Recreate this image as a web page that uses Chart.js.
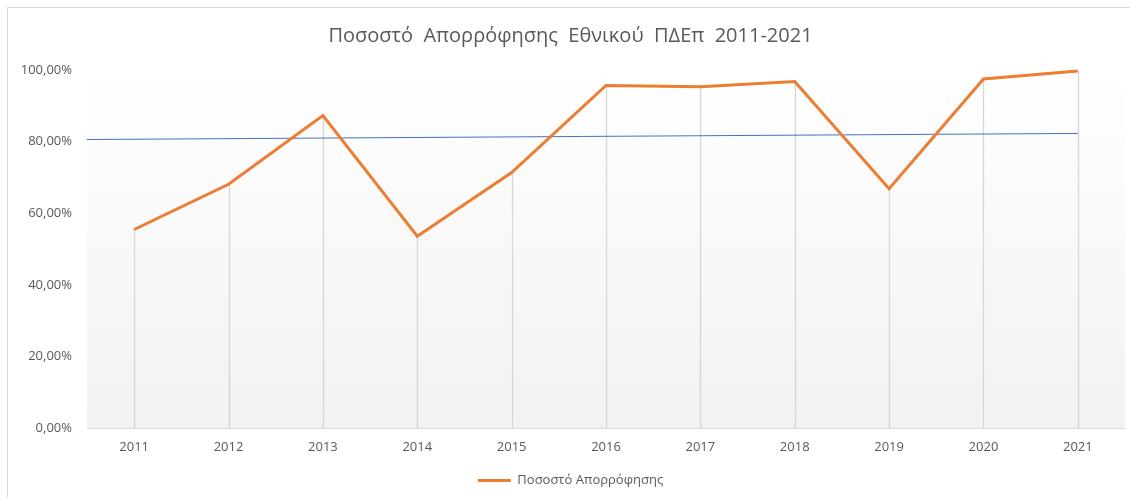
<!DOCTYPE html>
<html>
<head>
<meta charset="utf-8">
<script src="https://cdn.jsdelivr.net/npm/chart.js@4"></script>
<style>
  html, body { margin: 0; padding: 0; background: #fff; }
  #moldura {
    position: absolute; left: 7px; top: 7px; width: 1123px; height: 490px;
    border-left: 1px solid #d9d9d9; border-top: 1px solid #d9d9d9;
  }
  #caixa { position: absolute; left: 0; top: 0; width: 1130px; height: 497px; }
</style>
</head>
<body>
<div id="moldura"></div>
<div id="caixa"><canvas id="grafico"></canvas></div>
<script>
// Dados
const anos = [2011, 2012, 2013, 2014, 2015, 2016, 2017, 2018, 2019, 2020, 2021];
const percentuais = [55.5, 68.1, 87.3, 53.6, 71.4, 95.7, 95.3, 96.8, 66.9, 97.5, 99.7];
// Linha de tendência (azul): início na borda esquerda, fim em 2021
const tendenciaX = [2010.5, 2021];
const tendenciaY = [80.6, 82.3];

const COR_TEXTO = "#595959";
const FONTE = "'Open Sans', 'Noto Sans', sans-serif";

// Fundo em degradê da área de plotagem
const fundoDegrade = {
  id: "fundoDegrade",
  beforeDraw(chart) {
    const { ctx, chartArea: a } = chart;
    const g = ctx.createLinearGradient(0, a.top, 0, a.bottom);
    g.addColorStop(0, "#ffffff");
    g.addColorStop(1, "#f2f2f2");
    ctx.save();
    ctx.fillStyle = g;
    ctx.fillRect(a.left, a.top, a.right - a.left, a.bottom - a.top);
    ctx.restore();
  },
};

// Linhas verticais de cada ponto até o eixo
const linhasQueda = {
  id: "linhasQueda",
  beforeDatasetsDraw(chart) {
    const { ctx, chartArea: a } = chart;
    const meta = chart.getDatasetMeta(0);
    ctx.save();
    ctx.strokeStyle = "#d6d6d6";
    ctx.lineWidth = 1.3;
    meta.data.forEach((p) => {
      const x = Math.round(p.x) + 0.5;
      ctx.beginPath();
      ctx.moveTo(x, p.y);
      ctx.lineTo(x, a.bottom);
      ctx.stroke();
    });
    ctx.restore();
  },
};

new Chart(document.getElementById("grafico"), {
  type: "line",
  data: {
    datasets: [
      {
        label: "Ποσοστό Απορρόφησης",
        data: anos.map((a, i) => ({ x: a, y: percentuais[i] })),
        borderColor: "#ed7d31",
        backgroundColor: "#ed7d31",
        borderWidth: 3,
        pointRadius: 0,
        tension: 0,
        clip: false,
      },
      {
        label: "Tendência",
        data: tendenciaX.map((x, i) => ({ x, y: tendenciaY[i] })),
        borderColor: "#4472c4",
        borderWidth: 1,
        pointRadius: 0,
      },
    ],
  },
  options: {
    responsive: true,
    maintainAspectRatio: false,
    animation: false,
    layout: { padding: { top: 0, right: 5, bottom: 0, left: 16 } },
    scales: {
      x: {
        type: "linear",
        min: 2010.5,
        max: 2021.5,
        afterBuildTicks: (eixo) => { eixo.ticks = anos.map((v) => ({ value: v })); },
        grid: { display: false, drawTicks: false },
        border: { color: "#d9d9d9", width: 1 },
        ticks: {
          color: COR_TEXTO,
          font: { family: FONTE, size: 13 },
          padding: 11,
          callback: (v) => String(v),
        },
      },
      y: {
        min: 0,
        max: 100,
        afterFit: (eixo) => { eixo.width = 71; },
        grid: { display: false, drawTicks: false },
        border: { display: false },
        ticks: {
          stepSize: 20,
          color: COR_TEXTO,
          font: { family: FONTE, size: 13 },
          padding: 15,
          callback: (v) => v.toFixed(2).replace(".", ",") + "%",
        },
      },
    },
    plugins: {
      title: {
        display: true,
        text: "Ποσοστό  Απορρόφησης  Εθνικού  ΠΔΕπ  2011-2021",
        color: COR_TEXTO,
        font: { family: FONTE, size: 20, weight: "normal" },
        padding: { top: 24, bottom: 22 },
      },
      legend: {
        position: "bottom",
        labels: {
          color: COR_TEXTO,
          font: { family: FONTE, size: 13 },
          boxWidth: 33,
          boxHeight: 3,
          padding: 8,
          filter: (item) => item.datasetIndex === 0,
          generateLabels: (chart) =>
            Chart.defaults.plugins.legend.labels.generateLabels(chart).map((l) => ({ ...l, lineWidth: 0 })),
        },
      },
      tooltip: { enabled: false },
    },
  },
  plugins: [fundoDegrade, linhasQueda],
});
</script>
</body>
</html>
